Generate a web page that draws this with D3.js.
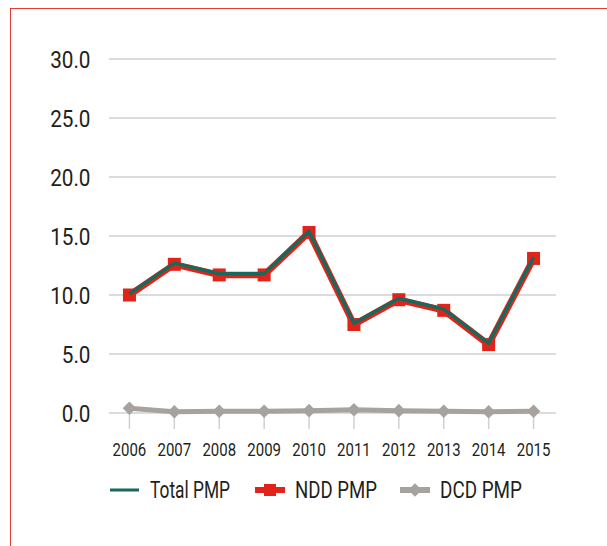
<!DOCTYPE html>
<html>
<head>
<meta charset="utf-8">
<script src="https://cdn.jsdelivr.net/npm/d3@7"></script>
<style>
  html, body { margin: 0; padding: 0; background: #fff; }
  svg { display: block; }
  .tick-lbl, .legend-lbl { font-family: Roboto, "Liberation Sans", Arial, sans-serif; font-weight: 400; fill: #231f20; }
</style>
</head>
<body>
<svg id="chart"></svg>
<script>
// ── Data ──────────────────────────────────────────────────────────────────
const years    = ["2006", "2007", "2008", "2009", "2010", "2011", "2012", "2013", "2014", "2015"];
const totalPMP = [10.1, 12.7, 11.8, 11.8, 15.4, 7.6, 9.7, 8.8, 5.9, 13.2];
const nddPMP   = [10.0, 12.6, 11.7, 11.7, 15.3, 7.5, 9.6, 8.7, 5.8, 13.1];
const dcdPMP   = [0.4, 0.1, 0.15, 0.15, 0.2, 0.28, 0.2, 0.15, 0.1, 0.15];
const yTicks   = [0, 5, 10, 15, 20, 25, 30];

const COLORS = { total: "#17695b", ndd: "#e2231a", dcd: "#a8a29e", grid: "#d0d0d0", frame: "#e53935" };

const VW = 607, VH = 546;
const svg = d3.select("#chart").attr("width", VW).attr("height", VH);

// squeeze text horizontally to mimic the condensed face of the original
function condense(sel, k) {
  sel.each(function () {
    const w = this.getComputedTextLength();
    d3.select(this).attr("textLength", w * k).attr("lengthAdjust", "spacingAndGlyphs");
  });
}

// Frame (red rule on top and left)
svg.append("line").attr("x1", 10).attr("x2", VW).attr("y1", 8.5).attr("y2", 8.5)
  .attr("stroke", COLORS.frame).attr("stroke-width", 1);
svg.append("line").attr("x1", 10.5).attr("x2", 10.5).attr("y1", 8).attr("y2", VH)
  .attr("stroke", COLORS.frame).attr("stroke-width", 1);

const x = d3.scalePoint().domain(years).range([107, 556]).padding(0.5);
const y = d3.scaleLinear().domain([0, 30]).range([413, 59]);

// Grid
svg.append("g").selectAll("line")
  .data(yTicks)
  .join("line")
  .attr("x1", 109).attr("x2", 556)
  .attr("y1", d => y(d)).attr("y2", d => y(d))
  .attr("stroke", COLORS.grid).attr("stroke-width", 1.5);

// Y labels
svg.append("g").selectAll("text")
  .data(yTicks)
  .join("text").attr("class", "tick-lbl")
  .attr("x", 90.5).attr("y", d => y(d) + 0.5).attr("dy", "0.36em")
  .attr("text-anchor", "end").attr("font-size", "23px")
  .text(d => d.toFixed(1))
  .call(condense, 0.9);

// X tick marks + labels
svg.append("g").selectAll("line")
  .data(years)
  .join("line")
  .attr("x1", d => x(d)).attr("x2", d => x(d))
  .attr("y1", y(0)).attr("y2", y(0) + 16)
  .attr("stroke", COLORS.grid).attr("stroke-width", 1.5);
svg.append("g").selectAll("text")
  .data(years)
  .join("text").attr("class", "tick-lbl")
  .attr("x", d => x(d)).attr("y", 449.5).attr("dy", "0.36em")
  .attr("text-anchor", "middle").attr("font-size", "18.5px")
  .text(d => d)
  .call(condense, 0.81);

const line = d3.line().x((d, i) => x(years[i])).y(d => y(d));
const diamond = d3.symbol().type(d3.symbolSquare).size(92);

// DCD series
svg.append("path").datum(dcdPMP)
  .attr("d", line).attr("fill", "none")
  .attr("stroke", COLORS.dcd).attr("stroke-width", 5).attr("stroke-linejoin", "round");
svg.append("g").selectAll("path")
  .data(dcdPMP)
  .join("path")
  .attr("d", diamond)
  .attr("fill", COLORS.dcd)
  .attr("transform", (d, i) => `translate(${x(years[i])},${y(d)}) rotate(45)`);

// NDD series
svg.append("path").datum(nddPMP)
  .attr("d", line).attr("fill", "none")
  .attr("stroke", COLORS.ndd).attr("stroke-width", 6.5).attr("stroke-linejoin", "round");
svg.append("g").selectAll("rect")
  .data(nddPMP)
  .join("rect")
  .attr("x", (d, i) => x(years[i]) - 6.5).attr("y", d => y(d) - 6.5)
  .attr("width", 13).attr("height", 13)
  .attr("fill", COLORS.ndd);

// Total series (on top)
svg.append("path").datum(totalPMP)
  .attr("d", line).attr("fill", "none")
  .attr("stroke", COLORS.total).attr("stroke-width", 3.5).attr("stroke-linejoin", "round");

// Legend
const legY = 490;
const leg = svg.append("g");
leg.append("line").attr("x1", 110).attr("x2", 139).attr("y1", legY).attr("y2", legY)
  .attr("stroke", COLORS.total).attr("stroke-width", 3);
leg.append("text").attr("class", "legend-lbl").attr("x", 150).attr("y", legY).attr("dy", "0.36em")
  .attr("font-size", "23px").attr("textLength", 80).attr("lengthAdjust", "spacingAndGlyphs")
  .text("Total PMP");

leg.append("line").attr("x1", 255).attr("x2", 285).attr("y1", legY).attr("y2", legY)
  .attr("stroke", COLORS.ndd).attr("stroke-width", 6);
leg.append("rect").attr("x", 264).attr("y", legY - 6).attr("width", 12).attr("height", 12)
  .attr("fill", COLORS.ndd);
leg.append("text").attr("class", "legend-lbl").attr("x", 295).attr("y", legY).attr("dy", "0.36em")
  .attr("font-size", "23px").attr("textLength", 82).attr("lengthAdjust", "spacingAndGlyphs")
  .text("NDD PMP");

leg.append("line").attr("x1", 400).attr("x2", 430).attr("y1", legY).attr("y2", legY)
  .attr("stroke", COLORS.dcd).attr("stroke-width", 6);
leg.append("path").attr("d", diamond)
  .attr("transform", `translate(415,${legY}) rotate(45)`)
  .attr("fill", COLORS.dcd);
leg.append("text").attr("class", "legend-lbl").attr("x", 440).attr("y", legY).attr("dy", "0.36em")
  .attr("font-size", "23px").attr("textLength", 82).attr("lengthAdjust", "spacingAndGlyphs")
  .text("DCD PMP");
</script>
</body>
</html>
